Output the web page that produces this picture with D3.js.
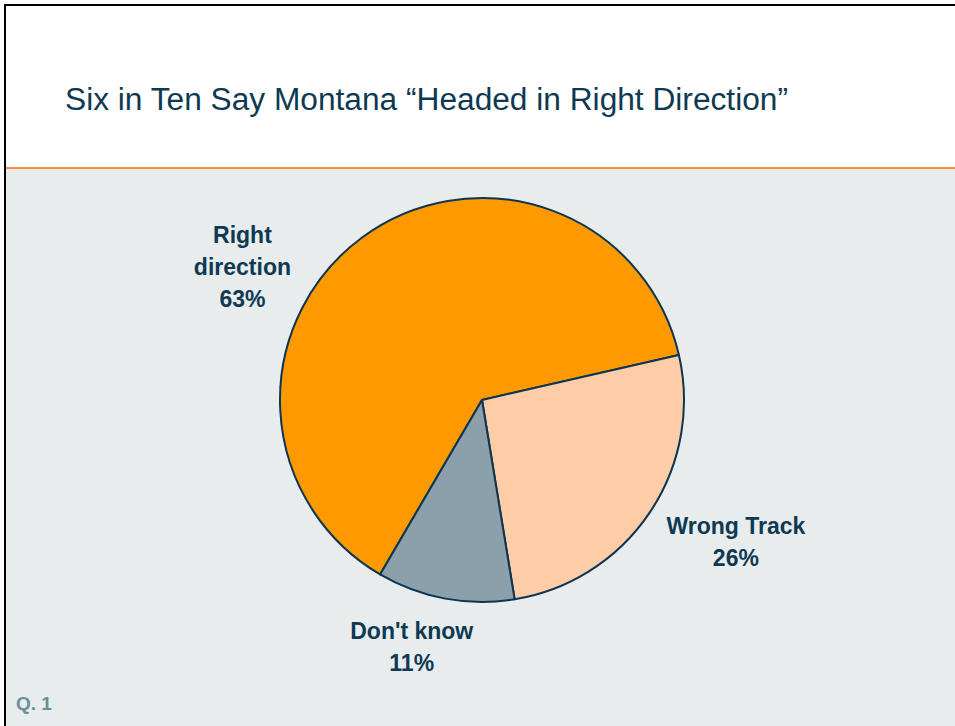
<!DOCTYPE html>
<html>
<head>
<meta charset="utf-8">
<script src="https://cdn.jsdelivr.net/npm/d3@7"></script>
<style>
  html, body { margin: 0; padding: 0; background: #ffffff; }
  svg { display: block; }
</style>
</head>
<body>
<svg id="chart" width="955" height="726"></svg>
<script>
const titleText = "Six in Ten Say Montana \u201CHeaded in Right Direction\u201D";
const categories = ["Right direction", "Wrong Track", "Don't know"];
const values = [63, 26, 11];
const labelLines = [["Right", "direction", "63%"], ["Wrong Track", "26%"], ["Don't know", "11%"]];
const sliceColors = ["#FF9900", "#FECCA6", "#8BA0AA"];
const footnote = "Q. 1";

const W = 955, H = 726;
const svg = d3.select("#chart");
const ink = "#0D3A52";

// background panels
svg.append("rect").attr("x", 0).attr("y", 0).attr("width", W).attr("height", H).attr("fill", "#ffffff");
svg.append("rect").attr("x", 5).attr("y", 168).attr("width", W - 5).attr("height", H - 168).attr("fill", "#E8ECED");
svg.append("line").attr("x1", 5).attr("x2", W).attr("y1", 168).attr("y2", 168)
  .attr("stroke", "#FF6A00").attr("stroke-width", 1.5);
// frame
svg.append("line").attr("x1", 4).attr("x2", W).attr("y1", 5).attr("y2", 5).attr("stroke", "#000").attr("stroke-width", 2);
svg.append("line").attr("x1", 5).attr("x2", 5).attr("y1", 4).attr("y2", H).attr("stroke", "#000").attr("stroke-width", 2);

// title
const title = svg.append("text").attr("x", 65).attr("y", 110)
  .attr("font-family", "Liberation Sans, Arial, sans-serif")
  .attr("font-size", 31).attr("fill", ink).text(titleText);
const tl = title.node().getComputedTextLength();
if (Math.abs(tl - 723) > 4) title.attr("textLength", 723).attr("lengthAdjust", "spacingAndGlyphs");

// pie
const cx = 482, cy = 400, r = 202;
const startDeg = -149.7;
const pie = d3.pie().sort(null).value(d => d)
  .startAngle(startDeg * Math.PI / 180)
  .endAngle((startDeg + 360) * Math.PI / 180);
const arcs = pie(values);
const arc = d3.arc().innerRadius(0).outerRadius(r);
const color = d3.scaleOrdinal().domain(categories).range(sliceColors);

const g = svg.append("g").attr("transform", `translate(${cx},${cy})`);
g.selectAll("path").data(arcs).enter().append("path")
  .attr("d", arc)
  .attr("fill", (d, i) => color(categories[i]))
  .attr("stroke", "#0B3550").attr("stroke-width", 2).attr("stroke-linejoin", "round");

// labels: polar placement relative to each slice's mid-angle
const labelAngleShift = [-24.3, -5.0, 5.5];   // degrees
const labelRadius = [275, 290, 255];
const lineH = 31.8;
arcs.forEach((d, i) => {
  const mid = (d.startAngle + d.endAngle) / 2 + labelAngleShift[i] * Math.PI / 180;
  const lx = Math.sin(mid) * labelRadius[i];
  const ly = -Math.cos(mid) * labelRadius[i];
  const lines = labelLines[i];
  const t = g.append("text")
    .attr("text-anchor", "middle")
    .attr("font-family", "Liberation Sans, Arial, sans-serif")
    .attr("font-weight", "bold").attr("font-size", 23).attr("fill", ink);
  const firstBase = ly - (lines.length - 1) * lineH / 2 + 10;
  lines.forEach((ln, j) => {
    t.append("tspan").attr("x", lx).attr("y", firstBase + j * lineH).text(ln);
  });
});

// footnote
svg.append("text").attr("x", 16).attr("y", 710)
  .attr("font-family", "Liberation Sans, Arial, sans-serif")
  .attr("font-weight", "bold").attr("font-size", 19).attr("fill", "#6A8E9A").text(footnote);
</script>
</body>
</html>
